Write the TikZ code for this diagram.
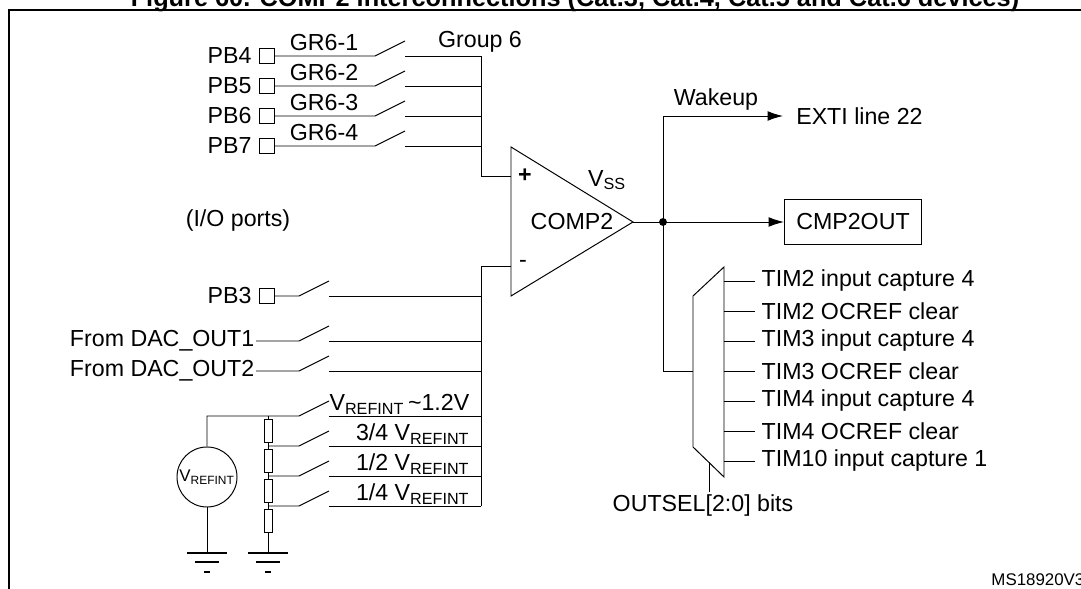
\documentclass[tikz,border=0pt]{standalone}
\usepackage{fontspec}
\setmainfont{Liberation Sans}
\usetikzlibrary{positioning, arrows.meta, calc}
\tikzset{
x=0.025cm, y=-0.025cm, % pixel grid of the figure
every node/.style={font=\fontsize{16.5}{19}\selectfont, inner sep=1pt},
wire/.style={line width=0.7pt},
pin/.style={draw, line width=0.7pt, minimum size=0.38cm, inner sep=0pt},
res/.style={draw, line width=0.7pt, minimum width=0.2cm, minimum height=0.56cm, inner sep=0pt},
sig/.style={wire, -{Latex[length=11pt, width=7pt]}},
}
\newcommand{\subs}[1]{\textsubscript{\fontsize{11.5}{12}\selectfont #1}}
\newcommand{\gnd}[1]{% ground symbol below a coordinate
  \draw[line width=1.4pt] ($(#1)+(-20,0)$) -- ++(40,0);
  \draw[line width=1.4pt] ($(#1)+(-12,9)$) -- ++(24,0);
  \draw[line width=1.4pt] ($(#1)+(-3,19)$) -- ++(6,0);}
\begin{document}
\begin{tikzpicture}
  \useasboundingbox (0,0) rectangle (1081,589);
  \node[anchor=base, font=\bfseries\fontsize{18}{20}\selectfont] (title) at (575,7)
    {Figure 60. COMP2 interconnections (Cat.3, Cat.4, Cat.5 and Cat.6 devices)};
  \draw[line width=1pt] (9,595) -- (9,10) -- (1090,10);

  % comparator
  \draw[wire] (511,147) -- (633,222) -- (511,296) -- cycle;
  \coordinate (inp) at (511,176);
  \coordinate (inm) at (511,266);
  \coordinate (out) at (633,222);
  \node (cmp) at (572,222) {COMP2};
  \node (vss) at (607,180) {V\subs{SS}};
  \node (plus) at (525,176) {\bfseries +};
  \node (minus) at (523,264) {-};

  % group 6 inputs
  \foreach \i/\y in {4/56, 5/86, 6/116, 7/146} {
    \node[pin] (pb\i) at (267,\y) {};
    \node[left=4pt of pb\i] (lpb\i) {PB\i};
    \coordinate (s\i) at (375,\y);
    \coordinate (t\i) at (405,\y);
    \draw[wire] (pb\i) -- (s\i) -- ++(30,-15);
    \draw[wire] (t\i) -- (481,\y);
  }
  \foreach \i/\y in {1/43, 2/73, 3/103, 4/133}
    \node (gr\i) at (324,\y) {GR6-\i};
  \node (grp) at (480,42) {Group 6};
  \draw[wire] (481,56) -- (481,176) -- (inp);
  \node (io) at (238,221) {(I/O ports)};

  % inverting inputs
  \node[pin] (pb3) at (267,296) {};
  \node[left=4pt of pb3] (lpb3) {PB3};
  \node[anchor=east] (dac1) at (256,341) {From DAC\_OUT1};
  \node[anchor=east] (dac2) at (256,371) {From DAC\_OUT2};
  \draw[wire] (pb3) -- (299,296) -- ++(30,-15);
  \draw[wire] (dac1) -- (299,341) -- ++(30,-15);
  \draw[wire] (dac2) -- (299,371) -- ++(30,-15);
  \foreach \y in {296, 341, 371, 416, 446, 476, 506}
    \draw[wire] (329,\y) -- (481,\y);
  \draw[wire] (481,506) -- (481,266) -- (inm);

  % reference ladder
  \node[draw, circle, line width=0.7pt, minimum size=1.5cm, inner sep=0pt] (vref) at (207,477) {\fontsize{12}{13}\selectfont V\textsubscript{\fontsize{8.5}{9}\selectfont REFINT}};
  \foreach \i/\y in {1/431, 2/461, 3/491, 4/521}
    \node[res] (r\i) at (268,\y) {};
  \coordinate (g1) at (207,553);
  \coordinate (g2) at (268,553);
  \draw[wire] (vref) -- (207,416) -- (299,416) -- ++(30,-15);
  \draw[wire] (268,416) -- (r1) -- (r2) -- (r3) -- (r4) -- (g2);
  \draw[wire] (vref) -- (g1);
  \foreach \y in {446, 476, 506}
    \draw[wire] (268,\y) -- (299,\y) -- ++(30,-15);
  \gnd{g1}
  \gnd{g2}
  \node[anchor=base east] (v12) at (471,411) {V\subs{REFINT}\,\textasciitilde1.2V};
  \node[anchor=base east] (v34) at (471,441) {3/4 V\subs{REFINT}};
  \node[anchor=base east] (v12b) at (471,471) {1/2 V\subs{REFINT}};
  \node[anchor=base east] (v14) at (471,501) {1/4 V\subs{REFINT}};

  % outputs
  \node[draw, line width=0.8pt, minimum width=3.42cm, minimum height=1.12cm] (cmpout) at (853,222) {CMP2OUT};
  \coordinate (j) at (663,222);
  \node[right, inner sep=0pt] (exti) at (796,116) {EXTI line 22};
  \coordinate (ea) at (783,116);
  \node (wake) at (716,100) {Wakeup};
  \fill (j) circle (2.8pt);
  \draw[wire] (out) -- (j);
  \draw[sig] (j) -- (cmpout);
  \draw[sig] (j) |- (ea);

  % output selector
  \draw[wire] (693,296) -- (724,267) -- (724,477) -- (693,447) -- cycle;
  \draw[wire] (j) |- (693,371);
  \draw[wire] (709,462) -- (709,492);
  \node (osel) at (703,506) {OUTSEL[2:0] bits};
  \foreach \y/\t in {281/TIM2 input capture 4, 311/TIM2 OCREF clear, 341/TIM3 input capture 4,
                     371/TIM3 OCREF clear, 401/TIM4 input capture 4, 431/TIM4 OCREF clear,
                     461/TIM10 input capture 1} {
    \draw[wire] (724,\y) -- (755,\y);
    \node[right] at (760,\y) {\t};
  }
  \node[anchor=east, font=\fontsize{12}{13}\selectfont] (ref) at (1086,580) {MS18920V3};
\end{tikzpicture}
\end{document}
